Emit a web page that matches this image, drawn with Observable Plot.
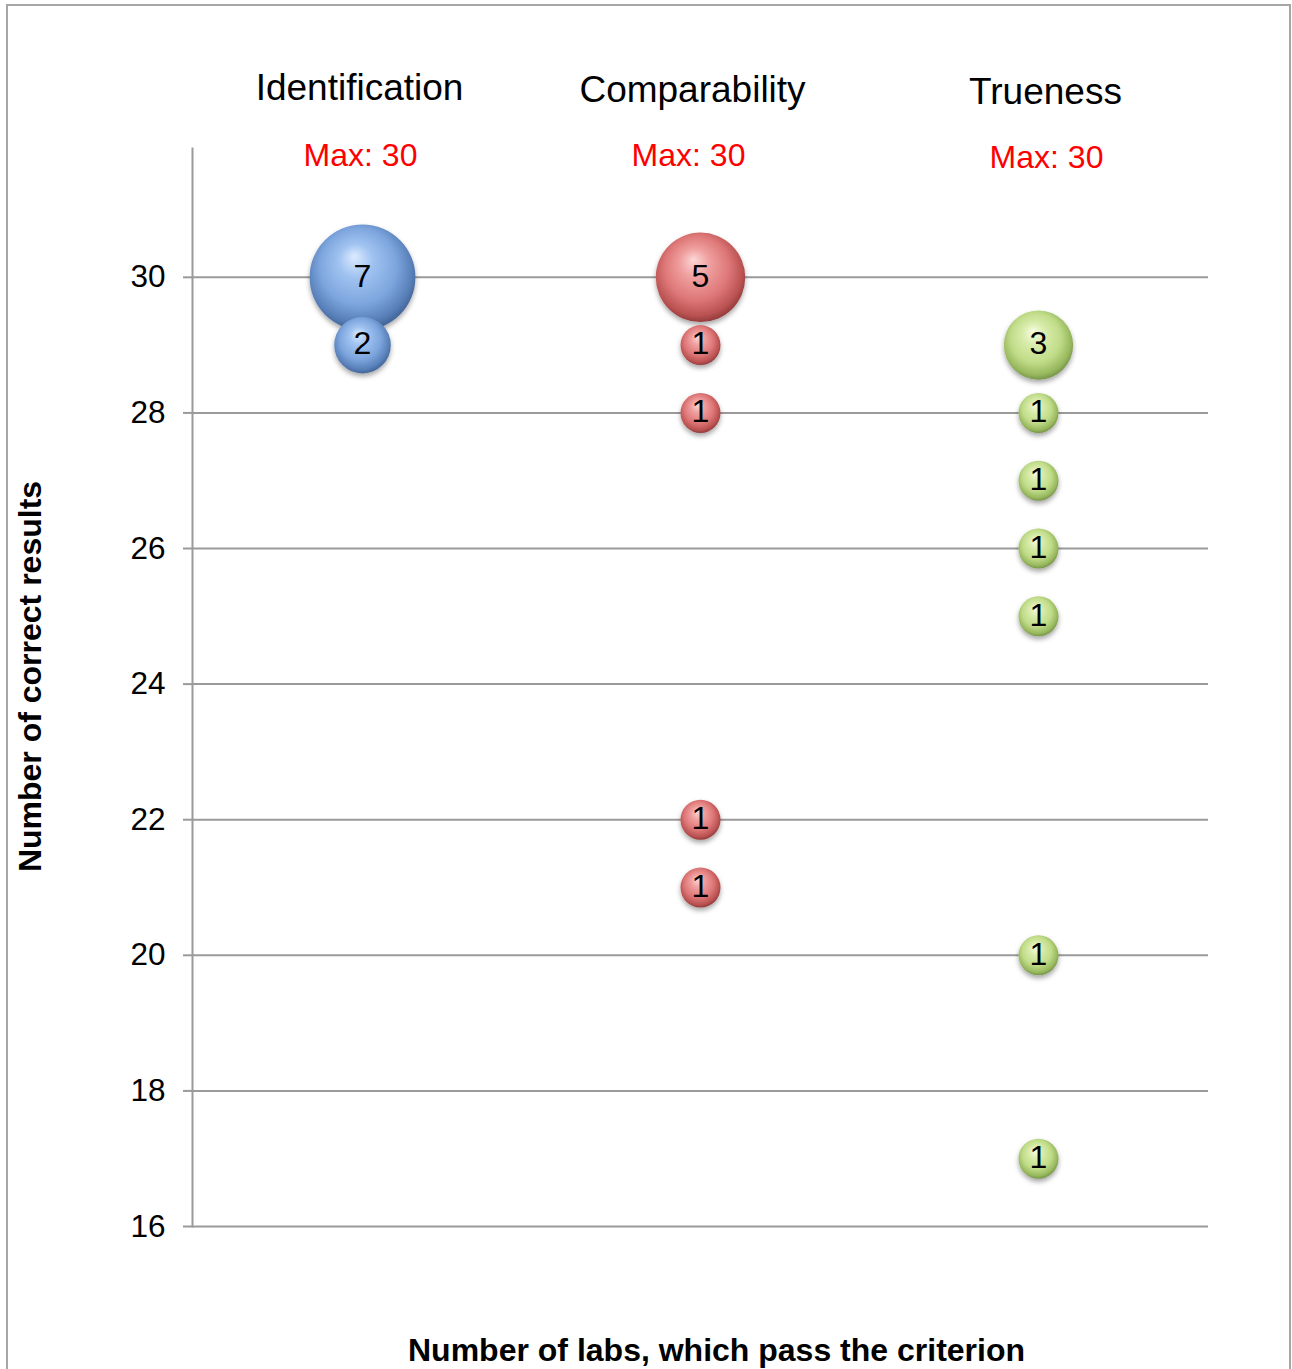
<!DOCTYPE html>
<html><head><meta charset="utf-8">
<script src="https://cdn.jsdelivr.net/npm/d3@7"></script>
<script src="https://cdn.jsdelivr.net/npm/@observablehq/plot@0.6"></script>
<style>
body{margin:0;background:#fff;font-family:"Liberation Sans",Arial,sans-serif}
#wrap{position:relative;width:1292px;height:1369px;overflow:hidden;background:#fff}
#border{position:absolute;left:6px;top:4px;width:1285px;height:1420px;border:2px solid #a6a6a6;box-sizing:border-box}
#chart{position:absolute;left:0;top:0}
</style></head><body>
<div id="wrap"><div id="border"></div><div id="chart"></div></div>
<script>
// ---- data ----
const categories = ["Identification", "Comparability", "Trueness"];
const maxLabels = ["Max: 30", "Max: 30", "Max: 30"];
const identValues = [30, 29];
const identCounts = [7, 2];
const compValues = [30, 29, 28, 22, 21];
const compCounts = [5, 1, 1, 1, 1];
const trueValues = [29, 28, 27, 26, 25, 20, 17];
const trueCounts = [3, 1, 1, 1, 1, 1, 1];
const yTicks = [16, 18, 20, 22, 24, 26, 28, 30];
const yTitle = "Number of correct results";
const xTitle = "Number of labs, which pass the criterion";

// ---- build table ----
const gradIds = {Identification: "url(#g-blue)", Comparability: "url(#g-red)", Trueness: "url(#g-green)"};
const series = [[identValues, identCounts], [compValues, compCounts], [trueValues, trueCounts]];
const bubbles = [];
series.forEach(([vals, cnts], i) => vals.forEach((v, j) => bubbles.push({category: categories[i], value: v, count: cnts[j], fill: gradIds[categories[i]]})));
const heads = categories.map((c, i) => ({category: c, max: maxLabels[i]}));

// small per-heading nudges (title dx, title dy, max dx, max dy)
const nudges = [[-3, -60, -2, 7], [-8, -58, -12, 7], [7, -56, 8, 9]];
const headMarks = heads.flatMap((h, i) => [
  Plot.text([h], {x: "category", text: "category", frameAnchor: "top", lineAnchor: "middle", dx: nudges[i][0], dy: nudges[i][1], fontSize: 37, fill: "#000"}),
  Plot.text([h], {x: "category", text: "max", frameAnchor: "top", lineAnchor: "middle", dx: nudges[i][2], dy: nudges[i][3], fontSize: 32, fill: "#ff0000"})
]);

const chart = Plot.plot({
  width: 1292,
  height: 1369,
  marginLeft: 192,
  marginRight: 84,
  marginTop: 148,
  marginBottom: 143,
  style: {fontFamily: "'Liberation Sans', Arial, sans-serif", background: "transparent", color: "#000"},
  x: {type: "point", domain: categories, padding: 0.5, axis: null},
  y: {domain: [16, 31.9], axis: null},
  r: {type: "sqrt", domain: [0, 1], range: [0, 20]},
  color: {type: "identity"},
  marks: [
    Plot.gridY(yTicks, {stroke: "#9a9a9a", strokeOpacity: 1, strokeWidth: 2}),
    Plot.axisY(yTicks, {tickSize: 9, tickPadding: 18, fontSize: 31.5, stroke: "#9a9a9a", strokeWidth: 2, fill: "#000", tickFormat: "d", label: null}),
    Plot.frame({anchor: "left", stroke: "#9a9a9a", strokeWidth: 2}),
    Plot.dot(bubbles, {x: "category", y: "value", r: "count", fill: "fill", stroke: "none"}),
    Plot.text(bubbles, {x: "category", y: "value", text: "count", fontSize: 32, fill: "#000", dy: -1}),
    ...headMarks,
    Plot.text([yTitle], {text: d => d, frameAnchor: "left", textAnchor: "middle", lineAnchor: "middle", dx: -162, dy: -11, rotate: -90, fontSize: 32, fontWeight: "bold", fill: "#000"}),
    Plot.text([xTitle], {text: d => d, frameAnchor: "bottom", lineAnchor: "middle", dx: 16, dy: 124, fontSize: 32, fontWeight: "bold", fill: "#000"})
  ]
});

// gradients + shadow
const svg = d3.select(chart);
const defs = svg.insert("defs", ":first-child");
const grads = {
  "g-blue": ["#dcebff", "#9fc2f0", "#7ea6de", "#587fb8", "#3a5b8c"],
  "g-red": ["#fcd6d6", "#f0a0a0", "#de7777", "#ba5252", "#853232"],
  "g-green": ["#f6fce4", "#d9ecac", "#c0dc88", "#98b85e", "#688740"]
};
for (const [id, c] of Object.entries(grads)) {
  const g = defs.append("radialGradient").attr("id", id)
    .attr("cx", "48%").attr("cy", "45%").attr("r", "58%").attr("fx", "42%").attr("fy", "30%");
  g.append("stop").attr("offset", "0%").attr("stop-color", c[0]);
  g.append("stop").attr("offset", "28%").attr("stop-color", c[1]);
  g.append("stop").attr("offset", "62%").attr("stop-color", c[2]);
  g.append("stop").attr("offset", "86%").attr("stop-color", c[3]);
  g.append("stop").attr("offset", "100%").attr("stop-color", c[4]);
}
const f = defs.append("filter").attr("id", "shadow").attr("x", "-30%").attr("y", "-30%").attr("width", "160%").attr("height", "170%");
f.append("feDropShadow").attr("dx", 0).attr("dy", 3).attr("stdDeviation", 2.5).attr("flood-color", "#000").attr("flood-opacity", 0.35);
svg.selectAll("g[aria-label='dot'] circle").attr("filter", "url(#shadow)");

document.getElementById("chart").appendChild(chart);
</script>
</body></html>
